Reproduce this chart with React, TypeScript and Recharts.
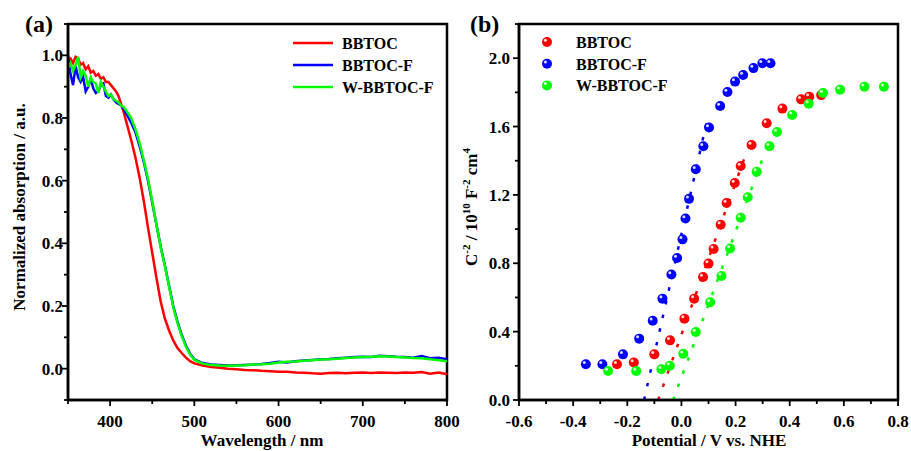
import { LineChart, Line, XAxis, YAxis, ReferenceArea, Legend, ScatterChart, Scatter, ReferenceLine } from 'recharts';

const FONT = '"Liberation Serif", "Times New Roman", serif';

// (a) UV-vis absorption
const wavelengths = [
  350, 353, 356, 359, 362, 365, 368, 371, 374, 377, 380, 383, 386, 389, 392, 395, 398, 401, 404, 407, 410, 413, 416, 419,
  425, 430, 435, 440, 445, 450, 455, 460, 465, 470, 475, 480, 485, 490, 495, 500,
  510, 520, 530, 540, 550, 560, 570, 580, 590, 600, 610, 620, 630, 640, 650, 660, 670, 680, 690, 700,
  710, 720, 730, 740, 750, 760, 770, 780, 790, 800,
];
const absBBTOC = [
  0.985, 0.99, 0.975, 0.995, 0.99, 0.97, 0.975, 0.955, 0.965, 0.945, 0.95, 0.935, 0.94, 0.925, 0.93, 0.915, 0.915, 0.905, 0.895, 0.885, 0.87, 0.845, 0.82, 0.79,
  0.73, 0.675, 0.61, 0.535, 0.45, 0.37, 0.29, 0.215, 0.16, 0.122, 0.09, 0.066, 0.05, 0.035, 0.024, 0.017,
  0.01, 0.005, 0.003, 0.0, -0.002, -0.004, -0.005, -0.007, -0.008, -0.01, -0.01, -0.012, -0.013, -0.015, -0.016, -0.014, -0.013, -0.015, -0.013, -0.012,
  -0.014, -0.012, -0.013, -0.014, -0.012, -0.013, -0.011, -0.016, -0.012, -0.018,
];
const absBBTOCF = [
  1.0, 0.94, 0.905, 0.965, 0.93, 0.915, 0.93, 0.885, 0.9, 0.925, 0.895, 0.88, 0.885, 0.905, 0.91, 0.87, 0.865, 0.875, 0.86, 0.85, 0.845, 0.84, 0.83, 0.815,
  0.785, 0.755, 0.71, 0.66, 0.6, 0.53, 0.46, 0.39, 0.33, 0.265, 0.2, 0.15, 0.108, 0.074, 0.048, 0.03,
  0.018, 0.013, 0.012, 0.01, 0.011, 0.012, 0.013, 0.015, 0.018, 0.022, 0.02, 0.024, 0.026, 0.028, 0.03, 0.031, 0.033, 0.035, 0.037, 0.038,
  0.037, 0.041, 0.04, 0.038, 0.037, 0.035, 0.04, 0.033, 0.035, 0.03,
];
const absWBBTOCF = [
  0.96, 0.975, 0.95, 0.97, 0.995, 0.93, 0.95, 0.935, 0.9, 0.93, 0.915, 0.91, 0.88, 0.915, 0.9, 0.885, 0.87, 0.875, 0.86, 0.855, 0.85, 0.84, 0.835, 0.825,
  0.8, 0.765, 0.72, 0.665, 0.605, 0.535, 0.46, 0.388, 0.328, 0.262, 0.196, 0.146, 0.104, 0.07, 0.045, 0.028,
  0.016, 0.012, 0.01, 0.009, 0.01, 0.011, 0.013, 0.014, 0.016, 0.02, 0.022, 0.023, 0.025, 0.027, 0.029, 0.03, 0.032, 0.034, 0.036, 0.037,
  0.038, 0.04, 0.039, 0.037, 0.036, 0.034, 0.033, 0.03, 0.027, 0.024,
];
const wlTicks = [350, 400, 450, 500, 550, 600, 650, 700, 750, 800];
const absTicks = [-0.1, 0, 0.1, 0.2, 0.3, 0.4, 0.5, 0.6, 0.7, 0.8, 0.9, 1.0, 1.1];

// (b) Mott-Schottky
const potBBTOC = [-0.238, -0.176, -0.1, -0.042, 0.011, 0.047, 0.08, 0.1, 0.119, 0.145, 0.167, 0.197, 0.219, 0.259, 0.315, 0.373, 0.442, 0.472, 0.516];
const c2BBTOC = [0.209, 0.219, 0.267, 0.349, 0.476, 0.593, 0.72, 0.798, 0.884, 1.026, 1.153, 1.27, 1.369, 1.492, 1.619, 1.705, 1.759, 1.775, 1.784];
const potBBTOCF = [-0.353, -0.292, -0.216, -0.156, -0.106, -0.07, -0.037, -0.016, 0.004, 0.015, 0.028, 0.053, 0.081, 0.102, 0.143, 0.17, 0.198, 0.228, 0.266, 0.299, 0.329];
const c2BBTOCF = [0.209, 0.209, 0.267, 0.359, 0.464, 0.593, 0.734, 0.831, 0.94, 1.062, 1.177, 1.35, 1.485, 1.594, 1.72, 1.802, 1.863, 1.902, 1.942, 1.97, 1.97];
const potWBBTOCF = [-0.271, -0.167, -0.074, -0.043, 0.007, 0.053, 0.106, 0.148, 0.18, 0.219, 0.245, 0.278, 0.325, 0.353, 0.409, 0.47, 0.523, 0.586, 0.676, 0.748];
const c2WBBTOCF = [0.17, 0.17, 0.18, 0.201, 0.271, 0.398, 0.572, 0.726, 0.886, 1.066, 1.186, 1.336, 1.485, 1.568, 1.668, 1.734, 1.796, 1.816, 1.833, 1.833];
// linear fits: [x at C^-2 = 0, x at top end], [0, y at top end]
const fitBBTOC = { x: [-0.086, 0.238], y: [0, 1.44] };
const fitBBTOCF = { x: [-0.138, 0.098], y: [0, 1.66] };
const fitWBBTOCF = { x: [-0.031, 0.304], y: [0, 1.43] };
const potTicks = [-0.6, -0.5, -0.4, -0.3, -0.2, -0.1, 0, 0.1, 0.2, 0.3, 0.4, 0.5, 0.6, 0.7, 0.8];
const c2Ticks = [0, 0.2, 0.4, 0.6, 0.8, 1.0, 1.2, 1.4, 1.6, 1.8, 2.0, 2.2];

const names = ['BBTOC', 'BBTOC-F', 'W-BBTOC-F'];
const colors = ['#ff0000', '#0000ff', '#00ff00'];

const absData = wavelengths.map((wl, i) => ({ wl, a: absBBTOC[i], b: absBBTOCF[i], c: absWBBTOCF[i] }));
const toPoints = (xs: number[], ys: number[]) => xs.map((x, i) => ({ x, y: ys[i] }));
const msSeries = [toPoints(potBBTOC, c2BBTOC), toPoints(potBBTOCF, c2BBTOCF), toPoints(potWBBTOCF, c2WBBTOCF)];
const fits = [fitBBTOC, fitBBTOCF, fitWBBTOCF];

const txt = { fontFamily: FONT, fontWeight: 'bold' as const, fill: '#000' };

function xTick(isMajor: (v: number) => boolean, fmt: (v: number) => string) {
  return (props: any) => {
    const { x, y, payload } = props;
    const major = isMajor(payload.value);
    return (
      <g>
        <line x1={x} x2={x} y1={y} y2={y + (major ? 6 : 4)} stroke="#000" strokeWidth={1.8} />
        {major && (
          <text x={x} y={y + 27} textAnchor="middle" fontSize={17} {...txt}>
            {fmt(payload.value)}
          </text>
        )}
      </g>
    );
  };
}

function yTick(isMajor: (v: number) => boolean, gap: number) {
  return (props: any) => {
    const { x, y, payload } = props;
    const major = isMajor(payload.value);
    return (
      <g>
        <line x1={x} x2={x - (major ? 6 : 4)} y1={y} y2={y} stroke="#000" strokeWidth={1.8} />
        {major && (
          <text x={x - gap} y={y + 6} textAnchor="end" fontSize={17} {...txt}>
            {payload.value.toFixed(1)}
          </text>
        )}
      </g>
    );
  };
}

const even = (v: number) => Math.round(v * 10) % 2 === 0;

function Sphere({ cx, cy, color }: { cx?: number; cy?: number; color: string }) {
  if (cx == null || cy == null) return null;
  return (
    <g>
      <circle cx={cx} cy={cy} r={5} fill={color} />
      <circle cx={cx - 1.6} cy={cy - 1.8} r={1.5} fill="#fff" opacity={0.85} />
    </g>
  );
}

function LineLegend() {
  return (
    <svg width={160} height={70}>
      {names.map((n, i) => (
        <g key={n}>
          <line x1={0} x2={40} y1={8 + i * 22} y2={8 + i * 22} stroke={colors[i]} strokeWidth={2.5} />
          <text x={49} y={14 + i * 22} fontSize={16} {...txt}>{n}</text>
        </g>
      ))}
    </svg>
  );
}

function DotLegend() {
  return (
    <svg width={160} height={70}>
      {names.map((n, i) => (
        <g key={n}>
          <Sphere cx={7} cy={7 + i * 21.7} color={colors[i]} />
          <text x={36} y={13 + i * 21.7} fontSize={16} {...txt}>{n}</text>
        </g>
      ))}
    </svg>
  );
}

function AbsorptionChart() {
  return (
    <LineChart width={460} height={451} data={absData} margin={{ top: 24, right: 13, bottom: 1, left: 18 }}>
      <XAxis
        type="number"
        dataKey="wl"
        domain={[350, 800]}
        ticks={wlTicks}
        interval={0}
        height={50}
        tickSize={0}
        tickMargin={0}
        tickLine={false}
        axisLine={{ stroke: '#000', strokeWidth: 2.5 }}
        tick={xTick((v) => v % 100 === 0, (v) => String(v))}
        label={{ content: () => <text x={262} y={446} textAnchor="middle" fontSize={17} {...txt}>Wavelength / nm</text> }}
      />
      <YAxis
        type="number"
        domain={[-0.1, 1.1]}
        ticks={absTicks}
        interval={0}
        width={50}
        tickSize={0}
        tickMargin={0}
        tickLine={false}
        axisLine={{ stroke: '#000', strokeWidth: 2.5 }}
        tick={yTick(even, 5)}
        label={{
          content: () => (
            <text transform="translate(25, 207) rotate(-90)" textAnchor="middle" fontSize={17} {...txt}>
              Normalized absorption / a.u.
            </text>
          ),
        }}
      />
      <ReferenceArea x1={350} x2={800} y1={-0.1} y2={1.1} fill="none" stroke="#000" strokeWidth={2.5} />
      <Line type="linear" dataKey="a" name={names[0]} stroke={colors[0]} strokeWidth={2.5} dot={false} isAnimationActive={false} />
      <Line type="linear" dataKey="b" name={names[1]} stroke={colors[1]} strokeWidth={2.5} dot={false} isAnimationActive={false} />
      <Line type="linear" dataKey="c" name={names[2]} stroke={colors[2]} strokeWidth={2.5} dot={false} isAnimationActive={false} />
      <Legend
        layout="vertical"
        align="center"
        verticalAlign="middle"
        content={() => <LineLegend />}
        wrapperStyle={{ left: 293, top: 35, width: 160, height: 70 }}
      />
    </LineChart>
  );
}

function MottSchottkyChart() {
  return (
    <ScatterChart width={451} height={451} margin={{ top: 24, right: 13, bottom: 1, left: 9 }}>
      <XAxis
        type="number"
        dataKey="x"
        domain={[-0.6, 0.8]}
        ticks={potTicks}
        interval={0}
        height={50}
        tickSize={0}
        tickMargin={0}
        tickLine={false}
        axisLine={{ stroke: '#000', strokeWidth: 2.5 }}
        tick={xTick(even, (v) => v.toFixed(1))}
        label={{ content: () => <text x={249} y={446} textAnchor="middle" fontSize={17} {...txt}>Potential / V vs. NHE</text> }}
      />
      <YAxis
        type="number"
        dataKey="y"
        domain={[0, 2.2]}
        ticks={c2Ticks}
        interval={0}
        width={50}
        tickSize={0}
        tickMargin={0}
        tickLine={false}
        axisLine={{ stroke: '#000', strokeWidth: 2.5 }}
        tick={yTick((v) => Math.round(v * 10) % 4 === 0, 9)}
        label={{
          content: () => (
            <text transform="translate(17, 207) rotate(-90)" textAnchor="middle" fontSize={17} {...txt}>
              C<tspan dy={-7} fontSize={11}>-2</tspan>
              <tspan dy={7}> / 10</tspan>
              <tspan dy={-7} fontSize={11}>10</tspan>
              <tspan dy={7}> F</tspan>
              <tspan dy={-7} fontSize={11}>-2</tspan>
              <tspan dy={7}> cm</tspan>
              <tspan dy={-7} fontSize={11}>4</tspan>
            </text>
          ),
        }}
      />
      <ReferenceArea x1={-0.6} x2={0.8} y1={0} y2={2.2} fill="none" stroke="#000" strokeWidth={2.5} />
      {fits.map((f, i) => (
        <ReferenceLine
          key={names[i]}
          segment={[{ x: f.x[0], y: f.y[0] }, { x: f.x[1], y: f.y[1] }]}
          stroke={colors[i]}
          strokeWidth={2.5}
          strokeDasharray="3.5 10.5"
        />
      ))}
      {msSeries.map((pts, i) => (
        <Scatter
          key={names[i]}
          name={names[i]}
          data={pts}
          isAnimationActive={false}
          shape={(p: any) => <Sphere cx={p.cx} cy={p.cy} color={colors[i]} />}
        />
      ))}
      <Legend
        layout="vertical"
        align="center"
        verticalAlign="middle"
        content={() => <DotLegend />}
        wrapperStyle={{ left: 80, top: 35, width: 160, height: 70 }}
      />
    </ScatterChart>
  );
}

export default function App() {
  return (
    <div style={{ position: 'absolute', left: 0, top: 0, width: 911, height: 451, background: '#fff' }}>
      <div style={{ position: 'absolute', left: 0, top: 0 }}>
        <AbsorptionChart />
      </div>
      <div style={{ position: 'absolute', left: 460, top: 0 }}>
        <MottSchottkyChart />
      </div>
      <svg width={911} height={451} style={{ position: 'absolute', left: 0, top: 0, pointerEvents: 'none' }}>
        <text x={25} y={32} fontSize={24} {...txt}>(a)</text>
        <text x={470} y={32} fontSize={24} {...txt}>(b)</text>
      </svg>
    </div>
  );
}
